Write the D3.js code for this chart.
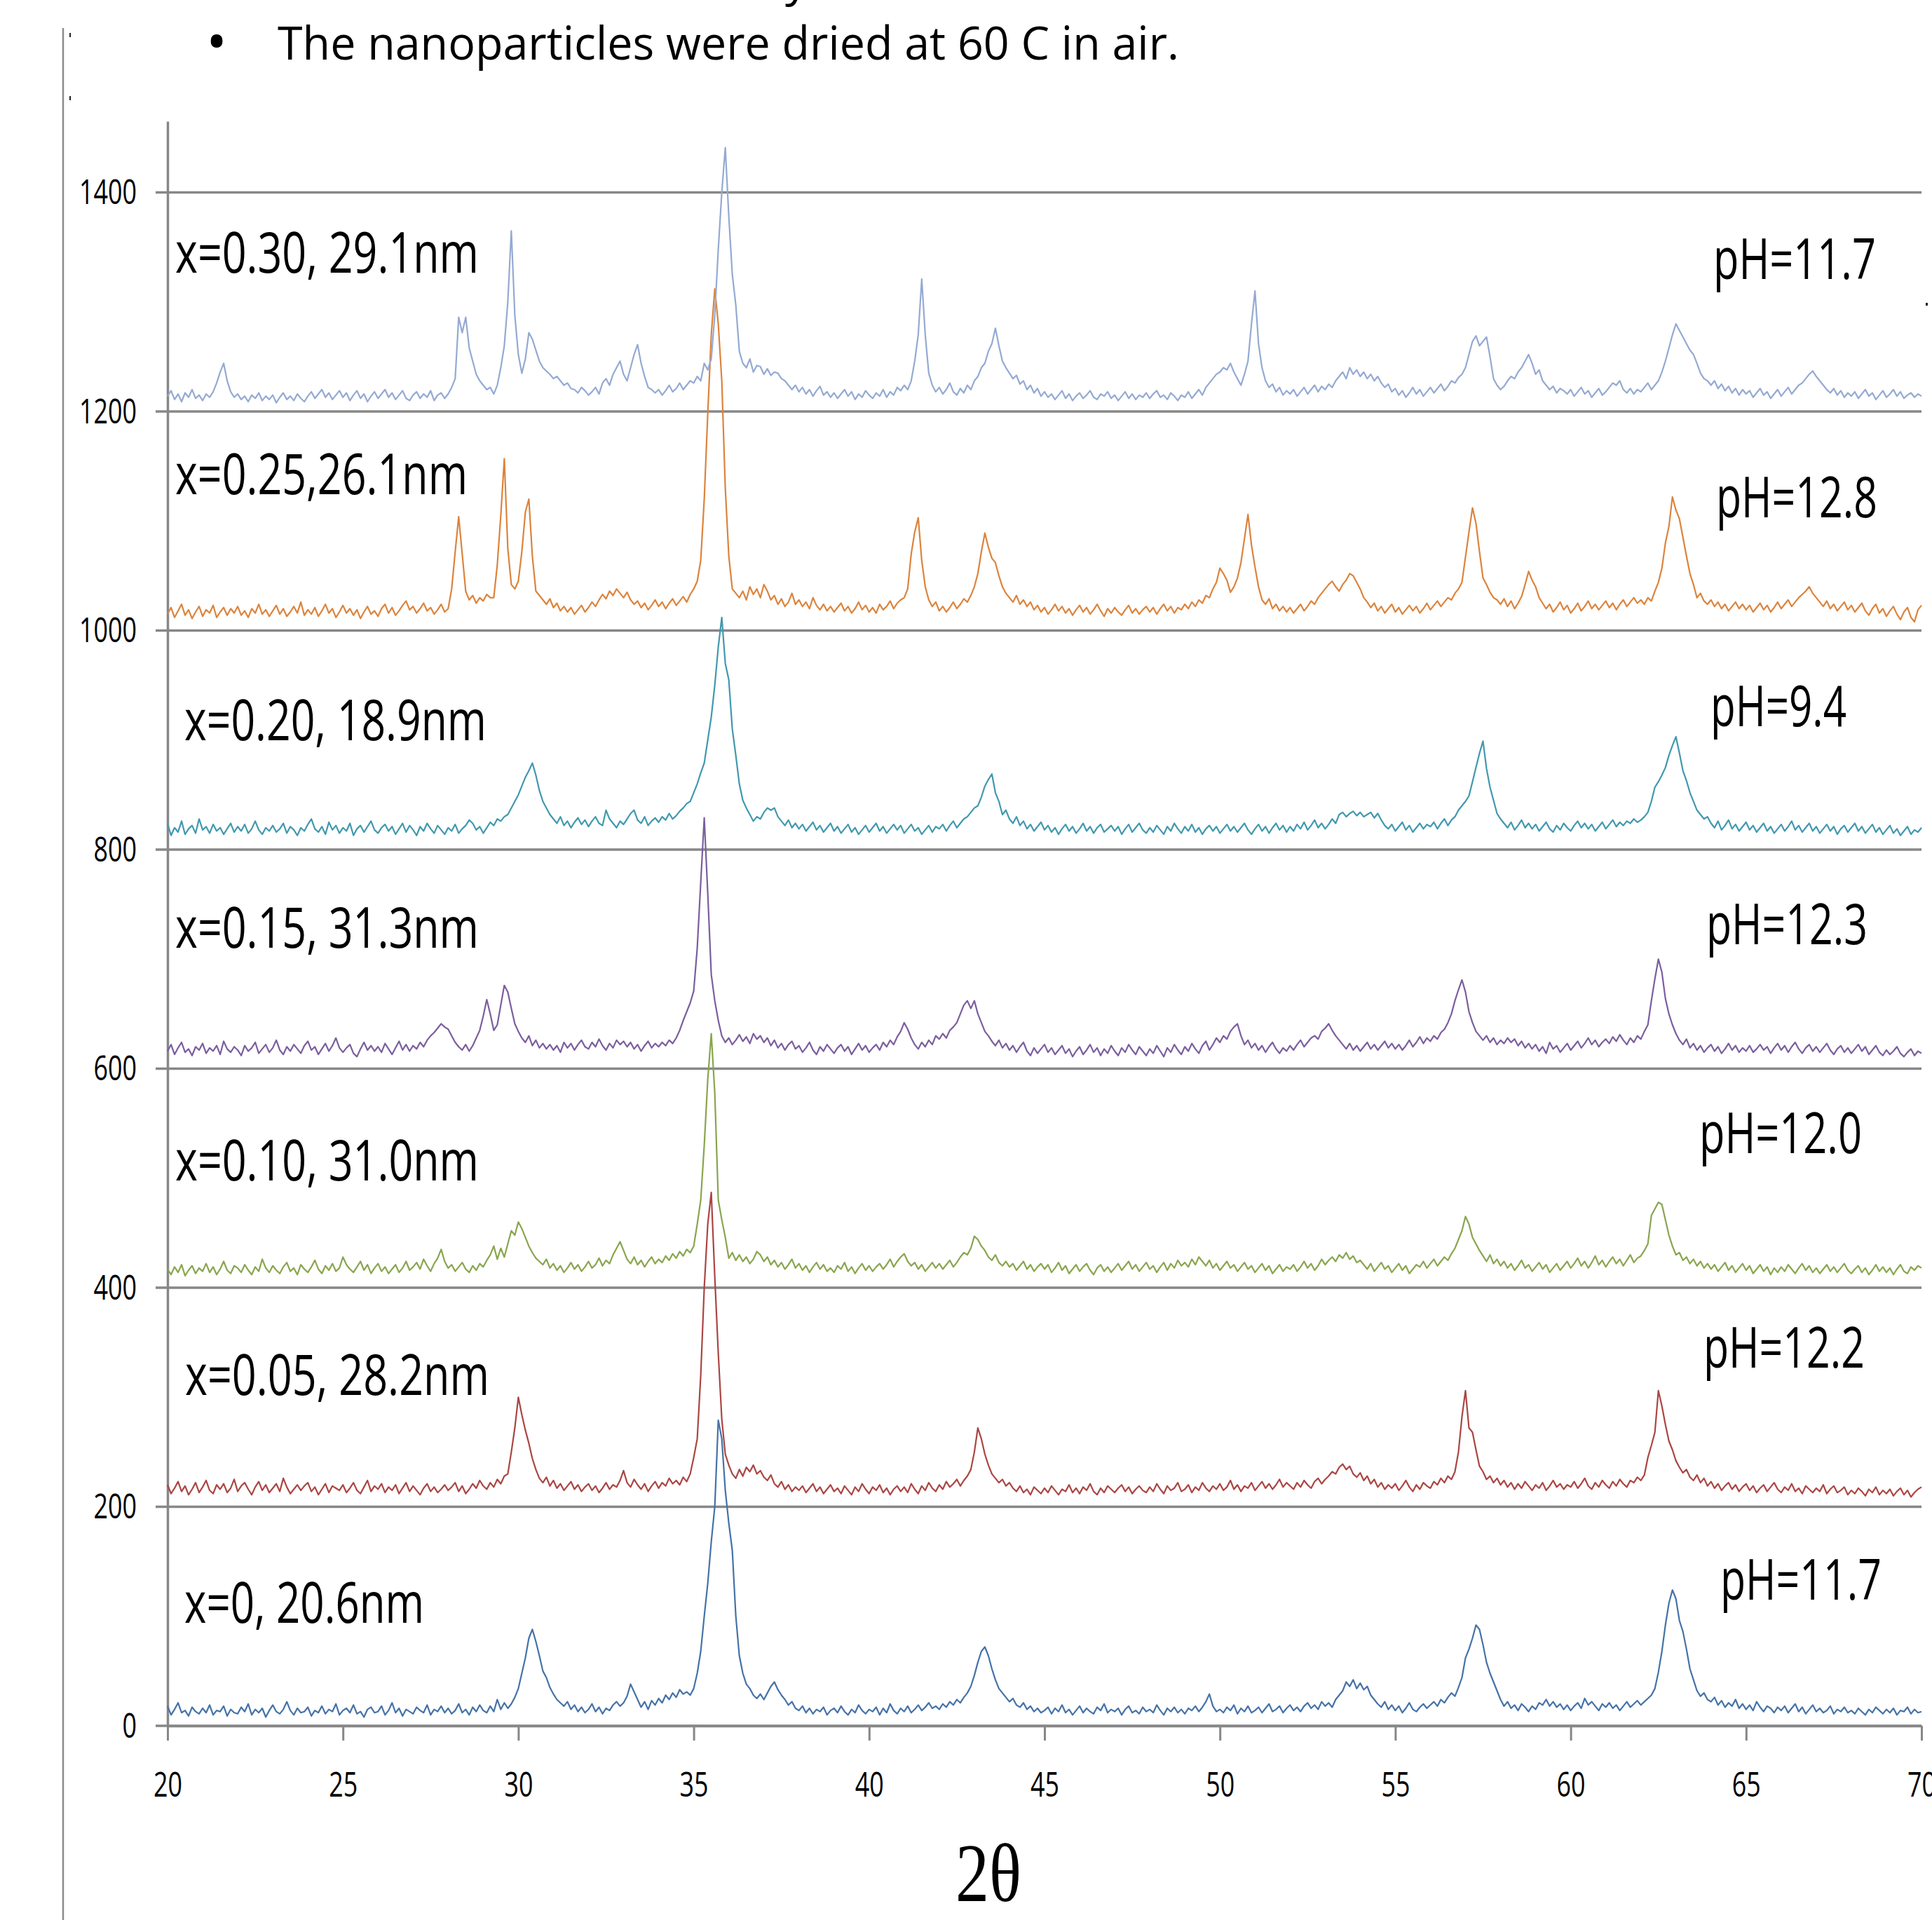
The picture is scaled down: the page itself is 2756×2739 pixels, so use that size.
<!DOCTYPE html>
<html>
<head>
<meta charset="utf-8">
<script src="https://cdn.jsdelivr.net/npm/d3@7"></script>
<style>
  body { margin: 0; background: #fff; }
  svg { display: block; }
  text { font-family: "Open Sans", sans-serif; fill: #000; }
</style>
</head>
<body>
<div id="chart"></div>
<script>
var width = 2756, height = 2739;

// XRD scans, 2theta from 20 to 70 in 0.1 degree steps
var scanStart = 20, scanStep = 0.1;

var xTicks = [20, 25, 30, 35, 40, 45, 50, 55, 60, 65, 70];
var yTicks = [0, 200, 400, 600, 800, 1000, 1200, 1400];

// each pattern is shifted up by 200 counts
var offsets = [0, 200, 400, 600, 800, 1000, 1200];

var sampleLabels = ["x=0, 20.6nm", "x=0.05, 28.2nm", "x=0.10, 31.0nm", "x=0.15, 31.3nm",
                    "x=0.20, 18.9nm", "x=0.25,26.1nm", "x=0.30, 29.1nm"];
var phLabels = ["pH=11.7", "pH=12.2", "pH=12.0", "pH=12.3", "pH=9.4", "pH=12.8", "pH=11.7"];

// intensities (counts above each pattern's offset)
var s0 = [
 18,10,15,21,12,14,9,17,13,11,
 16,12,19,10,14,13,18,9,15,12,
 11,17,13,20,10,15,12,16,8,14,
 19,13,11,15,22,14,10,16,12,13,
 17,9,14,12,18,11,15,13,20,10,
 14,16,12,19,11,13,8,15,17,12,
 13,18,10,14,21,12,16,9,15,13,
 11,17,14,12,19,10,15,13,18,12,
 16,11,14,20,12,15,10,17,13,19,
 14,12,18,13,24,15,21,16,20,26,
 34,48,62,80,88,77,64,50,44,35,
 29,24,21,18,22,15,19,13,17,12,
 15,20,13,17,11,16,14,19,22,18,
 21,27,38,31,24,17,22,15,23,19,
 25,21,28,24,30,26,33,29,31,28,
 34,48,68,100,130,168,200,279,262,215,
 185,160,100,64,48,38,34,28,25,29,
 24,30,36,40,33,28,24,19,22,16,
 14,18,12,16,11,15,13,17,10,14,
 16,12,18,13,10,15,12,19,14,11,
 15,13,17,10,16,12,20,14,11,16,
 13,18,12,15,19,14,17,21,16,18,
 15,20,17,22,19,24,21,26,30,36,
 46,58,68,72,64,52,42,34,30,26,
 22,25,19,17,21,15,18,13,16,12,
 14,17,11,16,13,19,12,15,10,14,
 18,12,16,13,11,17,14,20,12,15,
 13,16,10,15,18,12,14,11,17,13,
 15,12,19,14,10,16,13,17,12,15,
 11,16,14,18,13,17,22,29,18,13,
 15,12,17,14,19,11,16,13,18,12,
 14,17,12,16,20,13,15,18,12,16,
 19,14,17,13,18,21,16,19,15,22,
 18,21,17,24,28,32,40,36,42,34,
 39,33,36,28,24,20,17,22,15,19,
 14,18,12,16,21,15,13,17,20,16,
 19,22,18,24,21,26,30,27,35,44,
 62,70,80,92,88,74,58,48,40,32,
 24,18,22,16,19,14,20,17,13,18,
 15,21,19,24,18,22,17,20,15,19,
 14,18,21,16,25,19,22,18,14,20,
 17,21,16,19,14,18,22,17,20,23,
 19,22,25,28,34,49,68,92,112,124,
 116,96,86,70,52,42,32,27,30,24,
 22,26,19,23,17,21,18,24,16,20,
 15,19,14,22,17,13,18,16,12,17,
 14,18,12,16,20,13,17,11,15,19,
 13,16,12,14,18,11,15,13,17,12,
 14,11,16,13,10,15,12,17,14,11,
 15,12,16,10,14,13,17,11,15,12,
 13];

var s1 = [
 20,12,17,23,14,19,11,16,22,13,
 18,24,15,12,20,16,21,13,17,25,
 14,19,22,16,11,18,23,15,20,13,
 17,21,14,26,18,12,16,20,15,19,
 22,14,18,11,16,21,13,19,17,15,
 20,13,17,22,15,12,18,24,14,19,
 16,21,13,18,15,20,12,17,22,14,
 19,15,11,17,21,14,18,13,16,20,
 15,18,22,14,19,12,16,21,17,24,
 19,16,22,18,25,21,28,30,50,72,
 100,84,70,58,44,34,26,22,27,19,
 24,17,21,15,19,23,16,20,14,18,
 21,15,19,13,17,22,16,20,18,24,
 33,22,18,25,20,16,21,14,19,23,
 17,22,19,26,21,24,20,27,23,30,
 45,62,120,200,258,287,210,140,80,48,
 38,30,26,34,28,36,32,38,30,33,
 27,24,29,21,18,23,16,20,14,18,
 15,19,13,17,21,14,18,12,16,20,
 14,17,12,19,15,11,18,14,21,16,
 12,18,15,20,13,17,11,16,19,14,
 18,13,21,16,12,19,15,22,17,14,
 20,16,23,18,21,25,19,24,28,34,
 50,72,62,48,38,30,26,22,25,19,
 22,17,14,19,13,16,11,18,15,12,
 17,13,19,15,11,16,14,20,13,17,
 12,18,15,21,14,11,17,13,19,16,
 13,17,20,14,18,12,16,19,15,13,
 18,14,21,16,12,19,15,17,22,14,
 16,20,13,18,15,22,17,14,19,16,
 21,15,18,24,16,20,14,19,17,22,
 15,19,23,17,21,16,20,25,18,22,
 19,16,22,18,24,20,17,23,26,21,
 25,28,32,30,36,39,34,37,30,27,
 31,24,28,21,25,18,22,16,20,17,
 21,15,19,24,18,14,20,16,22,19,
 17,23,20,26,22,28,25,32,50,82,
 106,72,68,52,37,32,25,28,22,26,
 20,24,18,22,16,21,17,23,19,15,
 20,17,22,15,19,24,18,21,16,20,
 18,23,17,21,26,19,16,22,18,24,
 20,17,23,19,25,21,18,24,22,27,
 24,29,45,56,68,106,92,75,60,52,
 42,36,31,34,27,24,29,22,26,19,
 23,17,21,15,19,22,16,20,14,18,
 21,15,19,13,17,20,14,18,22,16,
 13,18,15,21,14,17,12,19,16,13,
 17,14,20,12,16,19,13,15,18,11,
 15,12,17,14,10,16,13,18,11,15,
 12,16,10,14,17,11,15,9,13,16,
 18];

var s2 = [
 17,12,19,14,21,11,16,20,13,18,
 15,22,14,19,12,17,24,16,13,20,
 18,14,21,16,12,19,15,26,18,14,
 20,16,13,19,23,15,18,12,21,17,
 14,19,25,17,13,20,16,22,15,18,
 28,21,17,14,19,24,16,21,13,18,
 22,15,19,13,17,21,14,18,24,16,
 19,23,17,26,20,15,22,27,35,24,
 18,21,15,19,23,17,14,20,16,22,
 19,25,30,38,26,36,28,40,52,48,
 60,54,46,38,32,27,24,21,26,18,
 22,16,20,14,18,23,17,21,15,19,
 24,18,21,27,20,25,22,30,36,42,
 34,26,22,28,21,25,19,24,28,22,
 26,23,29,25,31,27,33,29,35,32,
 38,58,80,130,190,232,178,80,62,46,
 27,32,25,30,24,28,22,26,33,30,
 24,28,21,25,19,23,17,21,26,18,
 22,16,20,14,19,23,17,21,15,18,
 14,20,17,23,15,19,13,18,22,16,
 20,15,19,22,17,21,26,19,24,28,
 31,24,20,23,17,21,15,19,23,18,
 22,17,21,25,19,23,28,32,30,36,
 47,44,38,34,28,25,30,23,20,24,
 19,22,16,20,24,17,21,15,19,22,
 17,21,14,18,23,16,20,13,17,21,
 15,19,22,16,12,18,21,15,19,14,
 18,22,16,20,24,17,21,15,19,23,
 17,20,14,19,23,16,22,18,25,20,
 23,19,26,21,28,24,20,25,18,22,
 16,20,24,18,21,15,19,23,17,20,
 14,18,22,16,20,13,17,21,15,19,
 17,21,15,19,24,18,22,16,20,26,
 21,25,28,24,30,27,32,26,29,23,
 25,21,17,22,15,19,23,17,20,14,
 18,22,16,20,13,17,21,19,24,18,
 22,26,20,24,28,25,31,36,44,52,
 65,58,46,40,34,29,24,30,22,26,
 20,24,18,22,16,20,25,18,21,15,
 19,23,17,21,14,18,22,16,20,24,
 18,22,27,20,24,18,23,29,21,25,
 19,24,28,22,26,20,25,30,23,27,
 29,34,40,66,72,78,76,62,48,38,
 30,32,25,28,22,26,20,24,18,22,
 17,21,15,19,23,16,20,14,18,22,
 16,20,13,17,21,15,19,12,18,14,
 19,15,21,17,13,18,22,16,20,14,
 18,13,17,21,15,19,14,18,22,16,
 13,17,20,14,18,12,16,21,15,19,
 14,18,12,17,21,15,13,19,16,20,
 18];

var s3 = [
 16,22,13,19,24,15,18,12,20,17,
 23,14,19,16,21,13,25,18,15,20,
 17,12,21,16,19,24,14,18,22,15,
 19,26,17,13,20,16,22,18,14,21,
 25,17,20,13,18,23,16,21,28,19,
 15,19,22,14,11,18,24,17,21,16,
 20,15,23,18,13,19,25,17,22,16,
 21,18,24,20,26,30,33,37,41,38,
 36,30,24,20,17,22,16,21,28,35,
 48,63,50,35,40,58,76,70,55,41,
 34,28,24,30,21,26,19,23,18,22,
 17,21,15,24,19,23,17,22,26,20,
 18,24,20,27,21,17,23,19,26,22,
 25,20,24,18,22,16,21,25,19,23,
 20,24,21,26,23,28,35,44,52,60,
 71,110,170,229,160,86,62,44,30,24,
 28,22,26,31,25,29,23,32,27,30,
 24,28,21,26,19,23,17,22,25,18,
 21,15,19,24,17,13,20,16,22,18,
 14,19,22,16,20,13,18,23,17,21,
 15,19,22,17,24,20,26,22,29,34,
 42,36,28,22,18,24,20,26,22,30,
 27,32,28,35,38,42,50,58,62,55,
 62,50,42,34,30,25,21,26,19,23,
 17,21,15,20,24,16,12,19,14,18,
 22,15,19,13,17,21,14,18,11,16,
 20,13,17,22,15,19,12,18,14,21,
 16,12,19,15,22,17,13,20,16,12,
 18,14,21,16,11,19,15,22,17,13,
 20,16,23,18,14,21,25,17,22,28,
 24,30,27,34,38,41,30,22,26,19,
 23,17,21,15,20,24,18,14,19,16,
 21,17,22,26,20,24,28,30,27,34,
 37,41,35,30,26,22,18,23,17,21,
 16,20,24,18,22,17,21,25,19,23,
 18,22,17,21,26,20,24,29,23,28,
 25,30,27,33,36,42,50,62,72,81,
 70,52,42,34,30,26,30,24,28,22,
 26,23,28,24,27,21,25,19,23,18,
 22,16,20,14,24,18,21,15,19,23,
 17,21,25,19,23,28,22,26,20,24,
 27,23,29,25,31,26,22,28,24,30,
 27,34,40,62,82,100,88,64,50,40,
 32,26,22,27,19,23,17,21,15,19,
 22,16,20,14,18,23,17,21,15,19,
 16,21,15,18,22,17,20,14,19,23,
 17,21,15,20,24,18,14,19,22,16,
 20,15,19,23,17,13,18,21,15,19,
 14,18,22,16,20,13,17,21,15,12,
 17,13,16,20,14,11,15,18,12,16,
 14];

var s4 = [
 24,13,20,16,26,14,19,22,15,28,
 18,21,15,23,17,20,14,19,24,16,
 21,17,23,15,19,26,18,14,20,17,
 22,16,19,24,15,21,18,13,20,17,
 23,28,19,16,21,14,25,18,22,15,
 20,17,24,13,19,22,16,21,26,18,
 15,20,23,17,21,14,19,24,16,22,
 18,13,21,17,24,19,15,22,18,14,
 20,17,23,15,19,22,27,24,18,21,
 15,20,25,22,28,26,30,32,38,44,
 50,58,66,72,79,68,54,44,38,32,
 28,24,30,22,26,20,25,29,23,27,
 21,26,30,24,22,36,28,24,20,26,
 23,28,33,36,27,24,30,22,26,29,
 25,30,27,33,28,31,35,38,42,44,
 52,60,70,79,100,121,150,185,212,170,
 155,110,86,60,45,38,32,26,30,28,
 34,38,36,38,30,26,22,27,20,24,
 19,23,17,21,25,18,22,16,20,24,
 17,21,15,19,23,16,20,14,18,22,
 16,20,24,17,21,15,19,23,18,22,
 15,19,23,17,20,14,18,22,16,21,
 19,23,17,22,26,20,24,28,30,34,
 38,40,48,58,64,69,52,44,32,36,
 28,24,30,22,26,19,23,17,21,25,
 18,22,16,20,14,19,23,17,21,15,
 19,24,17,21,15,20,23,16,19,22,
 17,21,14,19,23,16,20,24,18,15,
 20,16,22,18,14,21,17,24,19,15,
 21,17,23,16,20,14,19,22,17,21,
 15,19,23,17,21,16,20,24,18,14,
 19,23,17,21,15,20,24,18,22,16,
 21,17,23,19,25,18,22,27,20,24,
 19,23,28,24,32,34,30,33,35,31,
 34,30,32,34,29,33,27,22,19,23,
 17,21,25,18,22,16,20,24,19,23,
 21,25,19,24,28,22,27,30,36,40,
 44,49,62,75,88,99,74,57,45,33,
 28,24,20,25,18,22,27,20,24,19,
 23,17,21,25,19,16,22,18,24,20,
 17,22,26,20,24,19,23,17,21,25,
 19,23,27,21,25,22,26,24,28,25,
 27,30,34,44,57,62,68,75,86,95,
 103,88,72,63,52,44,36,32,28,30,
 24,20,26,18,22,27,19,23,17,21,
 25,18,22,16,20,24,17,21,15,19,
 23,17,21,26,18,22,16,20,24,17,
 21,15,19,23,17,21,14,19,22,16,
 20,24,17,21,15,19,23,16,20,14,
 18,22,15,19,13,17,21,14,18,16,
 20];

var s5 = [
 15,21,12,18,24,14,19,11,17,22,
 13,19,16,23,12,17,21,14,20,16,
 22,14,18,12,20,16,24,15,19,13,
 18,23,15,20,13,17,22,16,26,14,
 19,15,21,13,18,24,16,20,12,17,
 23,16,20,14,19,11,17,22,15,18,
 13,20,24,16,21,14,18,23,27,19,
 22,16,20,25,18,21,15,19,24,17,
 20,38,72,104,70,36,28,32,25,30,
 27,33,30,30,60,105,157,75,42,38,
 45,72,108,120,68,36,32,28,24,29,
 21,25,18,22,17,21,15,19,23,17,
 21,26,22,28,33,29,36,32,38,34,
 30,35,28,24,27,21,25,19,23,28,
 22,26,20,25,29,23,27,31,26,33,
 38,45,64,120,198,270,312,280,228,130,
 68,38,34,30,36,28,40,33,38,30,
 42,36,28,32,24,29,22,26,34,24,
 28,22,26,20,30,23,19,24,18,22,
 17,21,25,18,22,16,20,26,19,23,
 17,21,16,24,19,22,27,20,25,28,
 30,38,70,90,103,64,40,28,22,26,
 18,22,17,21,26,20,24,29,26,32,
 40,52,72,89,76,66,62,50,40,34,
 30,26,32,24,28,22,26,19,23,17,
 21,15,19,24,18,22,16,20,14,19,
 23,17,21,15,19,24,18,13,20,16,
 21,17,14,19,23,16,20,15,19,22,
 17,21,15,20,24,18,22,16,21,19,
 24,20,26,22,28,25,32,30,38,44,
 57,52,46,35,40,48,62,84,106,78,
 58,40,28,24,29,20,24,18,22,17,
 21,16,20,24,18,22,27,24,30,34,
 38,42,45,40,36,42,46,52,50,44,
 38,30,26,21,25,18,22,16,20,24,
 17,21,15,19,23,18,22,16,20,25,
 19,23,27,22,26,30,28,34,38,44,
 67,90,112,98,72,48,42,35,30,28,
 24,29,22,27,20,25,31,42,54,46,
 40,30,25,20,24,17,21,26,19,23,
 16,20,25,18,22,27,20,24,19,23,
 27,21,25,19,24,28,22,26,30,25,
 28,24,30,27,36,44,57,80,95,122,
 110,102,85,68,52,42,30,34,27,24,
 28,22,26,20,24,18,22,26,20,24,
 19,23,17,21,25,19,23,17,21,26,
 20,24,28,22,26,30,33,36,40,34,
 30,26,22,27,20,24,18,22,26,19,
 23,17,21,25,18,14,20,24,16,20,
 13,18,22,15,10,17,21,12,8,19,
 23];

var s6 = [
 14,19,11,16,9,17,13,20,12,15,
 10,16,13,18,26,36,44,28,18,13,
 16,11,14,9,15,12,17,10,14,11,
 15,8,13,17,11,14,10,16,12,9,
 14,18,12,16,20,13,17,11,15,19,
 13,17,10,15,19,12,16,9,14,18,
 12,16,20,13,17,11,15,19,12,10,
 15,18,12,16,13,19,10,15,17,12,
 16,22,30,86,72,86,58,46,34,28,
 24,20,22,16,24,40,60,100,165,88,
 52,35,48,72,66,56,46,40,37,34,
 30,32,28,24,26,21,20,17,22,19,
 15,18,22,16,26,30,24,34,40,46,
 34,28,40,52,61,44,32,22,20,17,
 20,15,19,24,18,21,26,20,24,28,
 26,32,28,44,38,48,88,148,200,241,
 178,125,97,55,44,40,48,36,42,41,
 34,39,33,36,35,30,28,24,20,24,
 18,22,16,20,14,19,23,15,18,13,
 17,12,16,20,14,18,11,16,13,19,
 15,12,17,14,20,13,18,15,22,19,
 24,20,28,46,70,121,70,35,24,18,
 22,16,20,26,18,15,21,17,24,20,
 28,32,40,44,55,62,76,60,46,40,
 35,30,33,25,28,20,24,17,21,14,
 18,13,16,11,15,19,12,16,10,14,
 17,12,15,19,13,11,16,14,18,12,
 15,10,14,18,12,16,11,15,13,17,
 12,16,19,13,15,11,17,14,10,15,
 13,18,12,16,20,15,22,26,30,34,
 36,40,38,44,36,30,24,34,46,80,
 110,62,40,28,22,25,18,22,15,19,
 16,20,14,18,22,16,20,24,18,23,
 20,25,22,28,32,36,30,40,34,38,
 32,36,30,34,28,32,26,22,25,18,
 21,15,19,13,17,22,16,20,14,18,
 22,17,21,25,19,23,28,26,31,34,
 40,52,64,69,60,64,68,50,30,24,
 20,23,28,32,30,36,40,46,52,44,
 34,38,28,24,20,23,17,21,19,16,
 20,14,18,22,16,19,13,17,21,15,
 18,22,26,24,28,20,17,21,16,20,
 18,22,26,20,24,28,36,46,58,70,
 80,74,68,62,56,52,44,35,30,28,
 24,28,21,25,19,23,17,21,15,20,
 16,19,13,17,21,15,18,12,16,20,
 14,18,22,16,20,24,26,30,34,37,
 32,28,24,20,17,21,15,19,13,17,
 14,18,12,16,20,14,17,11,15,19,
 13,16,20,14,18,12,15,17,13,16,
 14];

var series = [s0, s1, s2, s3, s4, s5, s6];
var seriesColors = ["#4572A7", "#AA4643", "#89A54E", "#7B5E9E", "#4198AF", "#DB843D", "#94AAD2"];

// where the annotation texts sit on the page (left edge, baseline, drawn width)
var leftLabelPos = [[263, 2315, 342], [264, 1990, 434], [250, 1684, 433], [250, 1352, 433],
                    [263, 1056, 431], [250, 705, 417], [250, 389, 433]];
var rightLabelPos = [[2454, 2282, 230], [2430, 1951, 230], [2424, 1645, 232], [2434, 1347, 230],
                     [2440, 1036, 194], [2448, 738, 230], [2444, 398, 232]];

var plot = {left: 239, right: 2741, top: 173, bottom: 2462};
var gridColor = "#878787";

var svg = d3.select("#chart").append("svg")
    .attr("width", width)
    .attr("height", height);

svg.append("rect").attr("width", width).attr("height", height).attr("fill", "#fff");

var x = d3.scaleLinear().domain([20, 70]).range([plot.left, plot.right]);
var y = d3.scaleLinear().domain([0, 1465]).range([plot.bottom, plot.top]);

// slide furniture
svg.append("line")
    .attr("x1", 90).attr("x2", 90).attr("y1", 40).attr("y2", height)
    .attr("stroke", "#8c8c8c").attr("stroke-width", 2.5);
svg.append("rect").attr("x", 99).attr("y", 47).attr("width", 2).attr("height", 6).attr("fill", "#222");
svg.append("rect").attr("x", 99).attr("y", 137).attr("width", 2).attr("height", 6).attr("fill", "#222");
svg.append("rect").attr("x", 2747).attr("y", 432).attr("width", 3).attr("height", 4).attr("fill", "#222");

svg.append("text")
    .attr("x", 1120).attr("y", -6)
    .attr("font-size", 66)
    .text("y");

svg.append("text")
    .attr("x", 294).attr("y", 88)
    .attr("font-size", 80)
    .text("\u2022");

svg.append("text")
    .attr("x", 396).attr("y", 85)
    .attr("font-size", 66)
    .attr("textLength", 1286)
    .attr("lengthAdjust", "spacingAndGlyphs")
    .text("The nanoparticles were dried at 60 C in air.");

// horizontal gridlines, with the little ticks left of the y axis
svg.append("g").selectAll("line")
    .data(yTicks)
    .enter().append("line")
    .attr("x1", plot.left - 17)
    .attr("x2", plot.right)
    .attr("y1", function(d) { return y(d); })
    .attr("y2", function(d) { return y(d); })
    .attr("stroke", gridColor)
    .attr("stroke-width", 3.5);

// y axis
var yAxis = svg.append("g")
    .attr("transform", "translate(" + plot.left + ",0)")
    .call(d3.axisLeft(y).tickValues(yTicks).tickFormat(d3.format("d"))
        .tickSize(0).tickSizeOuter(0).tickPadding(44));
yAxis.select(".domain").attr("stroke", gridColor).attr("stroke-width", 3.5);
yAxis.selectAll("text")
    .style("font-size", "50px")
    .attr("textLength", function(d) { return String(d).length * 20.5; })
    .attr("lengthAdjust", "spacingAndGlyphs");

// x axis
var xAxis = svg.append("g")
    .attr("transform", "translate(0," + plot.bottom + ")")
    .call(d3.axisBottom(x).tickValues(xTicks).tickFormat(d3.format("d"))
        .tickSize(21).tickSizeOuter(0).tickPadding(44));
xAxis.select(".domain").attr("stroke", gridColor).attr("stroke-width", 3.5);
xAxis.selectAll(".tick line").attr("stroke", gridColor).attr("stroke-width", 3);
xAxis.selectAll("text")
    .style("font-size", "50px")
    .attr("textLength", function(d) { return String(d).length * 20.5; })
    .attr("lengthAdjust", "spacingAndGlyphs");

svg.append("text")
    .attr("x", 1410).attr("y", 2712)
    .attr("text-anchor", "middle")
    .style("font-family", "'Liberation Serif', 'DejaVu Serif', serif")
    .style("font-size", "118px")
    .attr("textLength", 94)
    .attr("lengthAdjust", "spacingAndGlyphs")
    .text("2\u03b8");

// the patterns
var traces = svg.append("g").attr("class", "traces");
series.forEach(function(values, k) {
    var line = d3.line()
        .x(function(d, i) { return x(scanStart + i * scanStep); })
        .y(function(d) { return y(d + offsets[k]); });
    traces.append("path")
        .datum(values)
        .attr("fill", "none")
        .attr("stroke", seriesColors[k])
        .attr("stroke-width", 2.2)
        .attr("stroke-linejoin", "round")
        .attr("d", line);
});

// annotations
var notes = svg.append("g");
sampleLabels.forEach(function(t, k) {
    var p = leftLabelPos[k];
    notes.append("text")
        .attr("x", p[0]).attr("y", p[1])
        .attr("font-size", 80)
        .attr("textLength", p[2])
        .attr("lengthAdjust", "spacingAndGlyphs")
        .text(t);
});
phLabels.forEach(function(t, k) {
    var p = rightLabelPos[k];
    notes.append("text")
        .attr("x", p[0]).attr("y", p[1])
        .attr("font-size", 80)
        .attr("textLength", p[2])
        .attr("lengthAdjust", "spacingAndGlyphs")
        .text(t);
});
</script>
</body>
</html>
